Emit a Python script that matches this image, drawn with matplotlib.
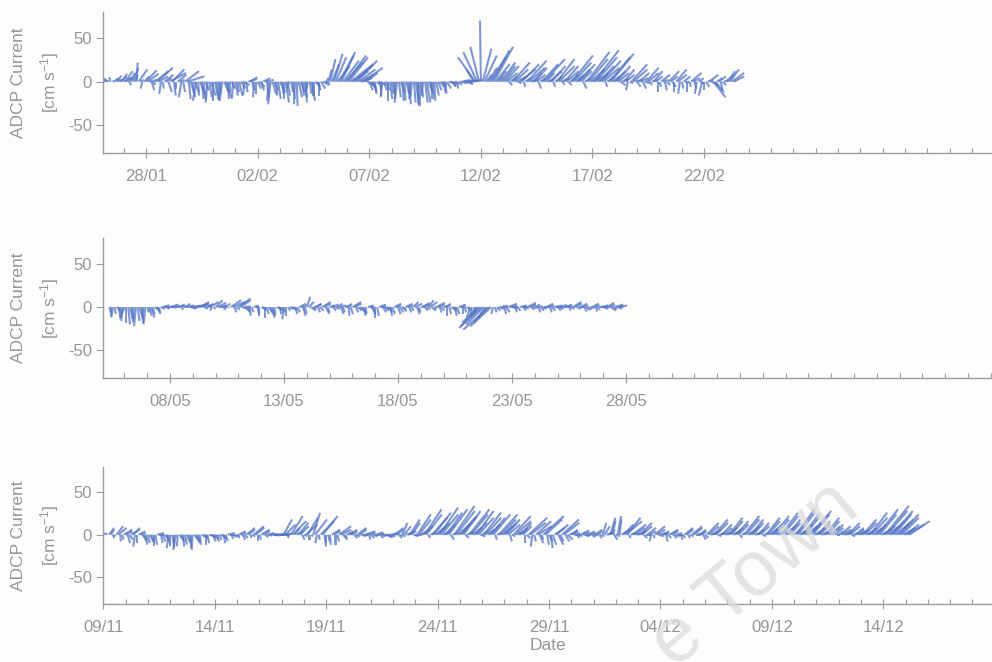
import numpy as np
import pandas as pd
import matplotlib
matplotlib.use('Agg')
import matplotlib.pyplot as plt
import matplotlib.dates as mdates
from matplotlib.ticker import MultipleLocator

plt.rcParams['font.family'] = ['Liberation Sans', 'DejaVu Sans']
plt.rcParams['mathtext.default'] = 'regular'
plt.rcParams['axes.unicode_minus'] = False

BG          = '#fefdfb'
STICK_COLOR = '#5576c6'
TEXT_COLOR  = '#969696'
AXIS_COLOR  = '#9c9c9c'

# ============================================================
# DATA — 2-hourly ADCP current vectors (u east, v north) [cm/s]
# one row per day
# ============================================================
START_1 = '2011-01-26 02:00'
U_1 = [-14, -10, -8, -6, -2, 2, 4, 6, 3, 8, 6, 10,
       8, 6, 2, 4, 6, 3, 1, 10, 4, -2, 6, 12,
       12, 8, 3, 2, 15, 18, 10, -2, 1, 10, 6, 4,
       18, 14, 2, 0, 10, 6, -3, 2, 16, 20, 2, 4,
       3, 5, -4, 1, 6, 2, 2, 4, -2, 3, 5, 0,
       4, 2, 2, -2, -3, 5, 6, 1, 1, 4, -2, 3,
       2, 4, 5, 8, -2, 1, 10, 8, 3, -1, 0, 4,
       6, 3, 8, 10, 2, -2, -3, 4, 4, 1, 3, 6,
       2, 0, 4, 3, -3, 2, 2, -1, 1, 4, 5, 2,
       3, 1, -2, 2, 4, 0, 6, 4, 0, 5, 8, 6,
       2, 4, 6, 8, 10, 12, 14, 16, 16, 18, 20, 22,
       22, 26, 18, 20, 24, 20, 16, 12, 22, 14, 10, 4,
       6, 4, 2, 6, 8, 1, -2, 3, 4, 0, 3, 2,
       2, 0, -3, 2, 4, 1, 1, 3, 3, -1, -2, 2,
       3, 1, 0, 2, -2, 3, 4, 5, 2, 0, 1, 3,
       4, 5, 6, 2, 1, 4, 8, 6, 3, 5, 2, 4,
       8, 9, 10, 7, 6, 11, 12, -8, -20, -16, -10, -1,
       10, 14, 6, 10, 18, 20, 22, 16, 10, 4, 16, 14,
       16, 12, 4, 8, 20, 16, 12, 4, 18, 20, 2, 6,
       22, 18, 8, 10, 14, 10, 3, 6, 18, 24, 10, 6,
       14, 16, 2, 8, 20, 18, 10, 2, 16, 14, 4, 10,
       24, 20, 10, 14, 18, 12, 4, 6, 26, 22, 16, 10,
       28, 24, 12, 16, 22, 18, 2, 8, 24, 26, 8, 12,
       16, 12, 6, 8, 12, 10, -2, 4, 18, 16, 8, 4,
       12, 8, 4, 6, 14, 12, 2, 6, 10, 8, 0, 2,
       10, 6, 2, 4, 12, 8, 4, 0, 12, 10, -2, 2,
       8, 4, 0, 2, 12, 8, 2, -2, 6, 4, -4, 0,
       4, 6, 10, 8, 14, 10, 6, 8, 2, 4, 4, 8,
       8, 10, 14, 12]
V_1 = [2, 4, 6, 3, 5, 1, 4, 7, 3, 6, 9, 5,
       12, 4, -4, 10, 16, 8, 22, 14, 2, -8, 6, 13,
       9, 2, -10, -4, 12, 16, 6, -14, -8, 8, 4, -12,
       10, 14, -16, -8, 8, 2, -18, -12, 12, 6, -20, -14,
       -18, -12, -22, -16, -15, -20, -20, -10, -24, -18, -16, -22,
       -20, -16, -14, -22, -22, -12, -18, -20, -12, -8, -20, -16,
       -12, -16, -8, -4, -16, -12, 3, 5, -10, -18, -14, -8,
       -6, -10, 4, 2, -18, -22, -26, -14, -10, -16, -20, -12,
       -14, -20, -24, -16, -8, -12, -20, -26, -28, -18, -12, -16,
       -18, -24, -10, -14, -22, -16, -6, -10, -16, -8, -4, -2,
       4, 14, 26, 20, 32, 28, 18, 30, 34, 24, 22, 30,
       28, 20, 12, 18, 24, 14, 8, 4, 16, 10, -6, -10,
       -8, -12, -14, -6, -4, -16, -18, -10, -10, -22, -20, -14,
       -16, -20, -24, -18, -12, -22, -22, -14, -26, -20, -18, -24,
       -20, -26, -28, -18, -16, -24, -24, -14, -12, -20, -22, -16,
       -10, -6, -4, -12, -14, -8, -2, -5, -6, -3, -8, -4,
       -2, 2, 1, -2, -3, 1, 2, 14, 28, 34, 40, 70,
       38, 30, 8, 16, 28, 36, 40, 20, 12, 6, 22, 18,
       18, 10, -4, 6, 22, 14, 6, -2, 14, 20, -6, 4,
       24, 16, 2, 10, 16, 8, -8, 4, 20, 26, 10, 2,
       12, 18, -6, 6, 26, 18, 4, -4, 18, 12, -4, 8,
       30, 22, 8, 14, 20, 12, -8, 4, 34, 26, 14, 6,
       36, 28, 10, 18, 24, 16, -6, 6, 28, 32, 6, 12,
       18, 10, -4, 4, 14, 8, -10, -2, 20, 14, 2, -6,
       10, 4, -8, -2, 16, 10, -4, 2, 12, 6, -12, -6,
       8, 2, -10, -4, 12, 6, -6, -12, 14, 8, -14, -8,
       6, 0, -12, -6, 10, 4, -8, -14, 4, -2, -16, -10,
       -6, 2, 8, -4, -18, -12, 4, 6, -10, -4, 2, 8,
       12, 14, 10, 6]
TICKS_1 = ['28/01', '02/02', '07/02', '12/02', '17/02', '22/02']
YEAR_1 = 2011

START_2 = '2011-05-05 08:00'
U_2 = [2, 0, -2, 1, 4, 2, 1, -1, -3, 0, 2, 3,
       1, -1, -2, 2, 3, 1, 0, -2, 2, 3, 4, 2,
       6, 4, 2, 5, 8, 6, 4, 7, 10, 6, 3, 5,
       8, 6, 2, 5, 6, 8, 10, 6, 4, 7, 12, 10,
       10, 8, 4, 6, 6, 10, -2, 2, 8, 10, 5, 6,
       4, 6, -4, 0, 12, 14, 2, 4, 14, 12, 6, 8,
       3, 2, 1, 2, 6, 4, 2, 0, 5, 4, 0, 2,
       4, 3, 2, 1, 6, 5, 1, 3, -2, 0, 3, 5,
       5, 4, 2, 3, 8, 6, 3, 2, 4, 6, 6, 5,
       8, 6, 2, 4, 10, 8, 4, 2, 6, 8, 3, 5,
       6, 8, 3, 2, 8, 6, 1, 3, 10, 8, 2, 4,
       5, 4, 2, 1, 7, 5, 4, 2, 0, 2, 8, 6,
       4, 5, 6, 4, 2, 3, 8, 6, 3, 4, 5, 3,
       8, 6, 2, 3, 6, 8, 3, 2, 10, 8, 4, 5,
       6, 8, 4, 3, 10, 8, 2, 3, 8, 6, 0, 2,
       6, 4, 2, 3, 8, 6, 0, 2, 4, 3, -4, -2,
       2, -6, -18, -22, -26, -20, -10, -16, -30, -24, -2, 2,
       4, 6, 8, 6, 2, 4, 10, 8, 6, 5, 1, 3,
       8, 6, 3, 4, 10, 8, 4, 5, 6, 7, 2, 4,
       5, 6, 8, 7, 2, 4, 10, 8, 4, 5, 6, 7,
       8, 6, 2, 4, 10, 8, 5, 6, 8, 7, 3, 4,
       4, 5, 8, 7, 2, 3, 10, 8, 6, 5, 8, 7,
       6, 5, 10, 8, 4, 8]
V_2 = [-6, -10, -12, -8, -4, -14, -16, -12, -8, -18, -20, -14,
       -14, -18, -22, -16, -10, -14, -18, -20, -6, -10, -12, -8,
       -4, -6, -8, -2, 2, 1, -2, 0, 3, 2, -1, 1,
       2, 3, -3, 1, 4, 2, 1, -1, -2, 2, 3, 4,
       6, 4, -2, 2, 4, 6, -4, -2, 8, 5, 0, 2,
       2, 4, -3, -1, 8, 6, -6, -3, 10, 8, -2, 1,
       -4, -6, -10, -6, 2, 0, -8, -10, -2, -4, -12, -8,
       -6, -8, -12, -10, -2, -4, -8, -6, -14, -10, -4, -2,
       -2, -4, -8, -6, 4, 2, -10, -8, 12, 6, -4, -2,
       3, 4, -6, -4, 6, 4, -8, -6, 2, 3, -4, -2,
       4, 2, -8, -6, 2, 4, -10, -8, 6, 4, -6, -4,
       -4, -6, -10, -8, 2, 0, -6, -8, -12, -10, 3, 1,
       -6, -4, -2, -6, -10, -8, 4, 2, -8, -6, -3, -5,
       4, 2, -6, -4, 6, 4, -8, -6, 3, 5, -4, -2,
       8, 6, -4, -2, 5, 3, -6, -4, 2, 4, -10, -8,
       -4, -2, -10, -8, 3, 1, -8, -6, -2, -4, -12, -10,
       -6, -12, -18, -22, -24, -20, -14, -18, -26, -22, -8, -6,
       -4, -2, 2, 0, -8, -6, 4, 2, -2, 0, -6, -4,
       2, 0, -4, -2, 5, 3, -3, -1, 3, 1, -6, -4,
       -2, 0, 4, 2, -6, -4, 2, 0, -4, -2, 3, 1,
       3, 1, -4, -2, 6, 4, -2, 0, 4, 2, -5, -3,
       -3, -1, 4, 2, -5, -3, 2, 0, -2, 0, 5, 3,
       -4, -2, 3, 1, -2, 2]
TICKS_2 = ['08/05', '13/05', '18/05', '23/05', '28/05']
YEAR_2 = 2011

START_3 = '2010-11-09 02:00'
U_3 = [-4, -2, 6, 4, 2, 1, 8, 10, 1, 2, 10, 8,
       3, 4, 10, 8, -2, 0, 8, 6, 4, 3, 1, 2,
       4, 3, 0, 2, 8, 6, 2, 3, 5, 4, -2, 0,
       2, 0, -3, -1, 4, 3, 1, 2, 3, 2, 0, -1,
       4, 3, 2, 1, 6, 5, 0, 2, 8, 6, 3, 4,
       3, 4, 6, 5, 1, 2, 8, 6, 2, 4, 5, 3,
       8, 6, 3, 4, 10, 8, 2, 4, 12, 10, 0, 2,
       10, 8, 4, 6, 6, 8, 8, 10, 10, 12, 12, 10,
       10, 12, 2, 4, 14, 16, 6, 8, 12, 10, 3, 4,
       14, 12, 0, 2, 8, 14, -2, 1, 16, 18, 2, 0,
       2, 1, 10, 8, 0, 2, 14, 12, 4, 3, 8, 6,
       8, 6, 4, 5, 10, 8, 6, 5, 12, 10, 2, 4,
       6, 5, 8, 7, 4, 5, 10, 8, 6, 7, 8, 6,
       10, 8, 4, 6, 6, 8, 8, 10, 12, 10, 6, 8,
       16, 14, 10, 12, 20, 18, 2, 6, 18, 20, 12, 14,
       22, 20, 8, 12, 18, 22, 4, 6, 24, 22, 14, 18,
       18, 20, 4, 8, 24, 20, 10, 14, 20, 18, 6, 8,
       20, 18, 8, 12, 16, 20, 2, 6, 22, 18, 12, 14,
       16, 14, 2, 4, 20, 18, 8, 10, 12, 10, 0, 4,
       22, 18, -2, 2, 18, 16, 4, 2, 24, 20, 2, 4,
       2, 4, 12, 14, 6, 4, 20, 18, 4, 6, 10, 8,
       8, 6, 3, 4, 10, 8, 6, 5, 8, 7, 4, 5,
       8, 6, 3, 4, 4, 6, 10, 8, 6, 4, 4, 5,
       4, 2, 14, 12, 20, 16, 2, 6, 16, 12, 8, 10,
       14, 12, 4, 6, 10, 8, -2, 2, 12, 10, 6, 8,
       8, 6, 2, 4, 10, 8, 4, 5, 6, 5, 2, 3,
       10, 8, 2, 4, 12, 10, 6, 8, 8, 6, 3, 4,
       14, 12, 8, 10, 16, 14, 4, 6, 12, 10, 10, 12,
       16, 14, 8, 10, 14, 12, 2, 4, 18, 16, 10, 12,
       14, 12, 6, 8, 12, 10, 4, 6, 16, 14, 10, 12,
       18, 16, 8, 10, 20, 18, 10, 12, 14, 12, 6, 8,
       22, 20, 10, 12, 18, 16, 12, 14, 24, 20, 8, 10,
       14, 12, 6, 8, 16, 14, 8, 10, 12, 10, 4, 6,
       12, 10, 6, 8, 14, 12, 4, 6, 10, 8, 8, 10,
       16, 14, 8, 10, 20, 18, 10, 12, 24, 20, 12, 14,
       28, 24, 12, 16, 24, 20, 16, 18, 22, 20, 14, 16,
       20, 24]
V_3 = [4, 2, 8, 6, -4, -2, 10, 8, -8, -6, 6, 4,
       -10, -6, 6, 8, -14, -10, 4, 2, -6, -8, -12, -10,
       -8, -10, -14, -12, 2, 0, -10, -8, -6, -10, -16, -14,
       -12, -16, -18, -14, -6, -8, -14, -12, -8, -10, -16, -18,
       -6, -8, -10, -12, -4, -2, -12, -10, -2, -4, -8, -6,
       -8, -6, -3, -5, -10, -8, 2, 0, -5, -3, -2, -4,
       4, 2, -6, -4, 8, 6, -4, -2, 10, 8, -8, -6,
       6, 4, -3, -1, 2, 1, -1, 0, 1, 0, 0, 1,
       18, 12, -4, 2, 22, 16, 8, 4, 14, 10, -6, -2,
       12, 20, -6, -2, 26, 18, -10, -6, 16, 22, -14, -10,
       -8, -12, 6, 4, -12, -8, 10, 6, -4, -6, 4, 2,
       6, 4, -4, -2, 8, 6, -2, 0, 4, 2, -6, -4,
       -2, 0, 3, 1, -4, -2, -1, -3, -3, -2, 2, 1,
       8, 6, -4, -2, 14, 10, 2, 4, 18, 14, -2, 0,
       24, 18, 6, 10, 30, 24, -4, 2, 20, 26, 10, 14,
       32, 24, 4, 12, 26, 30, -6, 2, 34, 28, 12, 20,
       22, 28, -4, 4, 30, 24, 8, 14, 28, 20, -2, 6,
       26, 20, 6, 12, 20, 24, -6, 2, 24, 18, 10, 14,
       18, 12, -8, -2, 22, 16, 4, 8, 14, 10, -10, -4,
       20, 14, -14, -8, 16, 10, -10, -6, 22, 18, -12, -8,
       -16, -12, 8, 12, -12, -8, 18, 14, -8, -6, 4, 6,
       2, 0, -4, -2, 5, 3, -2, -1, 4, 2, -3, -1,
       6, 4, -4, -2, 14, 10, 2, 6, 20, 16, -6, -2,
       22, 18, 8, 12, 16, 20, -4, 2, 12, 8, 2, 4,
       14, 10, -4, 0, 8, 4, -8, -4, 10, 6, -2, 2,
       4, 2, -8, -4, 6, 4, -4, -2, 2, 0, -6, -4,
       8, 6, -4, -2, 10, 8, 0, 2, 6, 4, -6, -4,
       14, 10, 2, 6, 18, 14, -2, 2, 12, 8, 4, 8,
       20, 16, 4, 8, 16, 12, -4, 2, 22, 18, 6, 10,
       18, 14, 2, 6, 14, 10, -2, 2, 20, 16, 8, 12,
       22, 18, 4, 8, 26, 22, 8, 12, 18, 14, 2, 6,
       30, 26, 6, 12, 24, 20, 10, 14, 28, 24, 4, 8,
       16, 12, 2, 6, 20, 16, 6, 10, 12, 8, 0, 4,
       10, 6, 2, 4, 14, 10, -2, 2, 8, 6, 4, 6,
       18, 14, 4, 8, 26, 20, 8, 12, 30, 24, 6, 10,
       34, 28, 10, 16, 28, 24, 14, 18, 24, 20, 8, 12,
       12, 16]
TICKS_3 = ['09/11', '14/11', '19/11', '24/11', '29/11', '04/12', '09/12', '14/12']
YEAR_3 = 2010

# ============================================================
# FIGURE
# ============================================================
W, H = 992, 662
fig = plt.figure(figsize=(W / 100, H / 100), dpi=100, facecolor=BG)

# axes box in pixels (left, top, right, bottom) and x span in days around first tick
panels = [
    (START_1, U_1, V_1, TICKS_1, YEAR_1, (103, 12, 992, 153), (1.93, 37.90)),
    (START_2, U_2, V_2, TICKS_2, YEAR_2, (103, 238, 992, 378), (2.94, 36.05)),
    (START_3, U_3, V_3, TICKS_3, YEAR_3, (103, 467, 992, 604), (0.02, 39.88)),
]

axes = []
for start, u, v, ticks, year, (l, t, r, b), (before, after) in panels:
    ax = fig.add_axes([l / W, 1 - b / H, (r - l) / W, (b - t) / H], facecolor=BG)
    axes.append(ax)

    times = mdates.date2num(pd.date_range(start, periods=len(v), freq='2h'))
    ax.quiver(times, np.zeros(len(times)), u, v,
              angles='uv', scale_units='y', scale=1, units='dots', width=2.1,
              headwidth=0, headlength=0, headaxislength=0, minlength=0,
              color=STICK_COLOR, alpha=0.75, zorder=2)

    tick_pos = mdates.date2num(pd.to_datetime([f'{d}/{year}' for d in ticks], format='%d/%m/%Y'))
    ax.set_xticks(tick_pos)
    ax.set_xticklabels(ticks)
    ax.xaxis.set_minor_locator(MultipleLocator(1))
    ax.set_xlim(tick_pos[0] - before, tick_pos[0] + after)

    ax.set_ylim(-82, 80)
    ax.set_yticks([-50, 0, 50])
    ax.set_yticklabels(['-50', '0', '50'])

    for side in ('top', 'right'):
        ax.spines[side].set_visible(False)
    for side in ('left', 'bottom'):
        ax.spines[side].set_color(AXIS_COLOR)
        ax.spines[side].set_linewidth(1.0)

    ax.tick_params(axis='y', direction='out', length=5, width=0.8, pad=3,
                   colors=AXIS_COLOR, labelcolor=TEXT_COLOR, labelsize=12)
    ax.tick_params(axis='x', which='major', direction='inout', length=7, width=0.8, pad=8,
                   colors=AXIS_COLOR, labelcolor=TEXT_COLOR, labelsize=12)
    ax.tick_params(axis='x', which='minor', direction='in', length=3.5, width=0.8,
                   colors=AXIS_COLOR)

    ax.set_ylabel('ADCP Current\n[cm s$^{-1}$]', fontsize=12.5, color=TEXT_COLOR, linespacing=1.7)
    ax.yaxis.set_label_coords(-0.047, 0.5)

axes[-1].set_xlabel('Date', fontsize=12.5, color=TEXT_COLOR, labelpad=2)

# thesis watermark
fig.text(862 / W, 1 - 512 / H, 'e Town', fontsize=56, color='#dadada', alpha=0.7,
         rotation=40, rotation_mode='anchor', ha='right', va='baseline', zorder=10)

fig.savefig('out.png', dpi=100, facecolor=BG)
